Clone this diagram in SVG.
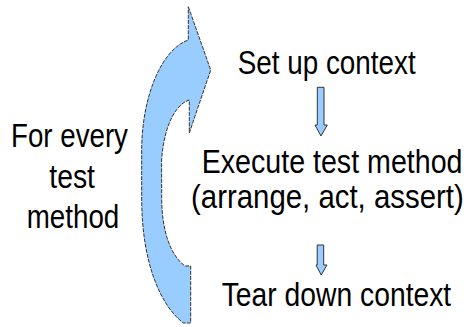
<svg xmlns="http://www.w3.org/2000/svg" width="467" height="327" viewBox="0 0 467 327">
  <style>
    .lbl { font-family: "Liberation Sans", Arial, sans-serif; font-size: 34px; fill: #000; }
    .arrow { fill: #99CCFF; stroke: #333; stroke-width: 1; stroke-linejoin: miter; }
  </style>
  <rect width="467" height="327" fill="#fff"/>

  <!-- big loop arrow: runs for every test method -->
  <g id="loop">
    <path class="arrow" stroke-dasharray="4 1.2" d="M188.3,6.7 L210.7,70 L189.3,133 L189.3,100 C176,104 164,125 161.6,160 L161.7,200 C162,232 171,256 185,266 L190.7,266 L190.7,323 L183.3,323 C160,305 142,262 141.7,200 L141.7,150 C141.7,100 160,50 188.3,40 Z"/>
  </g>

  <!-- labels use a horizontally condensed sans -->
  <g id="loop-label">
    <text class="lbl" transform="translate(11 146.7) scale(0.815 1)">For every</text>
    <text class="lbl" transform="translate(49.3 188.3) scale(0.834 1)">test</text>
    <text class="lbl" transform="translate(26.7 228.3) scale(0.817 1)">method</text>
  </g>

  <g id="setup">
    <text class="lbl" transform="translate(237.7 74.3) scale(0.819 1)">Set up context</text>
  </g>

  <g id="execute">
    <text class="lbl" transform="translate(201.7 173.3) scale(0.842 1)">Execute test method</text>
    <text class="lbl" transform="translate(191 208) scale(0.865 1)">(arrange, act, assert)</text>
  </g>

  <g id="teardown">
    <text class="lbl" transform="translate(221.7 306) scale(0.832 1)">Tear down context</text>
  </g>

  <g id="connectors">
    <path class="arrow" d="M317.3,87.3 L324,87.3 L324,125 L327.3,125 L321,136 L315,125 L317.3,125 Z"/>
    <path class="arrow" d="M317.2,245 L323.7,245 L323.7,265 L327,265 L321.2,275 L316,265 L317.2,265 Z"/>
  </g>
</svg>
